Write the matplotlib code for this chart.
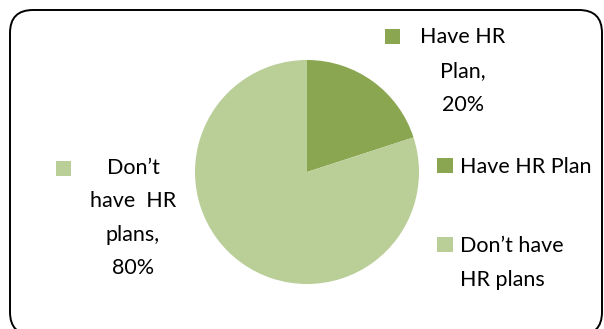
import matplotlib.pyplot as plt
from matplotlib.patches import FancyBboxPatch, Rectangle

plt.rcParams['font.family'] = ['Lato', 'DejaVu Sans']

# survey shares
names = ['Have HR Plan', 'Don’t have HR plans']
label_names = ['Have HR\nPlan', 'Don’t\nhave  HR\nplans']
legend_names = ['Have HR Plan', 'Don’t have\nHR plans']
values = [20, 80]
colors = ['#8AA650', '#BACE98']

W, H = 604, 329
fig = plt.figure(figsize=(W / 100, H / 100), dpi=100)

# rounded frame around the chart area (bottom edge runs past the canvas)
frame = FancyBboxPatch((0.10, -0.06), 5.92, 3.25,
                       boxstyle='round,pad=0,rounding_size=0.23',
                       transform=fig.dpi_scale_trans, fill=False,
                       edgecolor='black', linewidth=1.4)
fig.patches.append(frame)

# pie: center (307, 172) px, radius 112 px
cx, cy, r = 307, 172, 112
ax = fig.add_axes([(cx - r) / W, (H - cy - r) / H, 2 * r / W, 2 * r / H])
ax.pie(values, colors=colors, startangle=90, counterclock=False,
       radius=1.0, wedgeprops=dict(linewidth=0))
ax.set_xlim(-1, 1)
ax.set_ylim(-1, 1)
ax.set_aspect('equal')
ax.axis('off')

fs = 15.5
ls = 1.85

def px_rect(x, y, w, h, color):
    # rectangle given in pixel coords measured from the top-left corner
    fig.patches.append(Rectangle((x / W, 1 - (y + h) / H), w / W, h / H,
                                 transform=fig.transFigure,
                                 facecolor=color, edgecolor='none'))

# data labels with their keys
label_pos = [(463, 71), (133, 218)]
key_pos = [(385, 29), (56, 161)]
for name, v, c, (tx, ty), (kx, ky) in zip(label_names, values, colors,
                                          label_pos, key_pos):
    fig.text(tx / W, 1 - ty / H, f'{name},\n{v}%', ha='center', va='center',
             fontsize=fs, linespacing=ls, multialignment='center')
    px_rect(kx, ky, 15, 15, c)

# legend on the right
leg_pos = [158, 237]
for name, c, ky in zip(legend_names, colors, leg_pos):
    px_rect(437, ky, 16, 15, c)
    fig.text(460 / W, 1 - (ky - 1) / H, name, ha='left', va='top',
             fontsize=fs, linespacing=ls)

fig.savefig('out.png', dpi=100)
